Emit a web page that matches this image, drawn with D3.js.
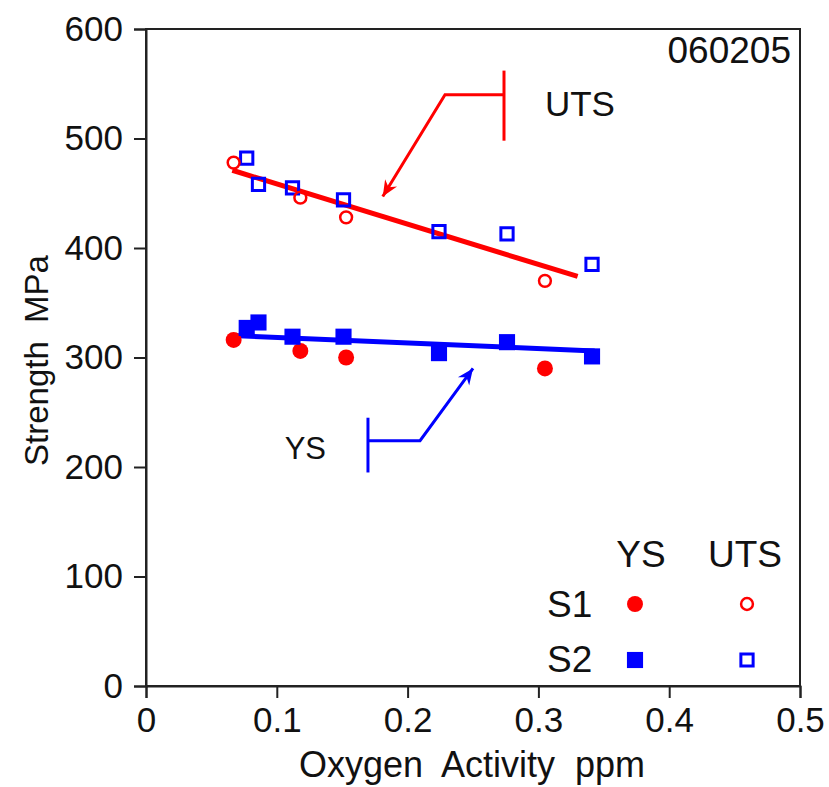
<!DOCTYPE html>
<html>
<head>
<meta charset="utf-8">
<script src="https://cdn.jsdelivr.net/npm/d3@7"></script>
<style>
  body { margin: 0; background: #fff; }
  text { font-family: "Liberation Sans", Arial, sans-serif; fill: #111; }
</style>
</head>
<body>
<div id="chart"></div>
<script>
// data (oxygen activity ppm, strength MPa)
const s1X = [0.067, 0.118, 0.153, 0.305];
const s1YS = [316, 306, 300, 290];
const s1UTS = [478, 446, 428, 370];

const s2X = [0.077, 0.086, 0.112, 0.151, 0.224, 0.276, 0.341];
const s2YS = [327, 332, 319, 319, 304, 314, 301];
const s2UTS = [482, 458, 455, 444, 415, 413, 385];

// fitted trend lines [x, y]
const utsFit = [[0.066, 471], [0.330, 374]];
const ysFit = [[0.066, 320], [0.343, 306]];

const xTicks = [0, 0.1, 0.2, 0.3, 0.4, 0.5];
const yTicks = [0, 100, 200, 300, 400, 500, 600];
const tag = "060205";

const width = 829;
const height = 787;
const margin = { top: 29, right: 29, bottom: 101, left: 146 };

const svg = d3.select("#chart")
  .append("svg")
  .attr("width", width)
  .attr("height", height);

const x = d3.scaleLinear()
  .domain([0, 0.5])
  .range([margin.left, width - margin.right]);

const y = d3.scaleLinear()
  .domain([0, 600])
  .range([height - margin.bottom, margin.top]);

// frame
svg.append("rect")
  .attr("x", x(0))
  .attr("y", y(600))
  .attr("width", x(0.5) - x(0))
  .attr("height", y(0) - y(600))
  .attr("fill", "none")
  .attr("stroke", "#222")
  .attr("stroke-width", 2);

const xAxis = svg.append("g")
  .attr("transform", `translate(0,${y(0)})`)
  .call(d3.axisBottom(x).tickValues(xTicks).tickFormat(d => d === 0 ? "0" : d3.format(".1f")(d))
    .tickSize(12).tickPadding(9));

const yAxis = svg.append("g")
  .attr("transform", `translate(${x(0)},0)`)
  .call(d3.axisLeft(y).tickValues(yTicks).tickSize(12).tickPadding(11));

[xAxis, yAxis].forEach(g => {
  g.select(".domain").attr("stroke", "#222").attr("stroke-width", 2);
  g.selectAll(".tick line").attr("stroke", "#222").attr("stroke-width", 2);
  g.selectAll(".tick text")
    .attr("font-size", 35)
    .attr("font-family", "Liberation Sans, Arial, sans-serif")
    .attr("fill", "#111");
});

// axis titles
svg.append("text")
  .attr("x", 472)
  .attr("y", 777)
  .attr("text-anchor", "middle")
  .attr("font-size", 36)
  .style("white-space", "pre")
  .text("Oxygen  Activity  ppm");

svg.append("text")
  .attr("transform", `translate(48,${(y(0) + y(600)) / 2 + 3}) rotate(-90)`)
  .attr("text-anchor", "middle")
  .attr("font-size", 33)
  .style("white-space", "pre")
  .text("Strength  MPa");

svg.append("text")
  .attr("x", x(0.5) - 9)
  .attr("y", 63)
  .attr("text-anchor", "end")
  .attr("font-size", 37)
  .text(tag);

// trend lines
const line = d3.line().x(d => x(d[0])).y(d => y(d[1]));
svg.append("path").datum(utsFit)
  .attr("d", line).attr("fill", "none").attr("stroke", "#ff0000").attr("stroke-width", 5);
svg.append("path").datum(ysFit)
  .attr("d", line).attr("fill", "none").attr("stroke", "#0000ff").attr("stroke-width", 5);

// markers
const red = "#ff0000", blue = "#0000ff";
const circleSym = d3.symbol().type(d3.symbolCircle);
const squareSym = d3.symbol().type(d3.symbolSquare);

svg.append("g").selectAll("path")
  .data(s2X.map((d, i) => [d, s2UTS[i]]))
  .join("path")
  .attr("transform", d => `translate(${x(d[0])},${y(d[1])})`)
  .attr("d", squareSym.size(150)())
  .attr("fill", "none").attr("stroke", blue).attr("stroke-width", 3);

svg.append("g").selectAll("path")
  .data(s1X.map((d, i) => [d, s1UTS[i]]))
  .join("path")
  .attr("transform", d => `translate(${x(d[0])},${y(d[1])})`)
  .attr("d", circleSym.size(110)())
  .attr("fill", "none").attr("stroke", red).attr("stroke-width", 2.5);

svg.append("g").selectAll("path")
  .data(s1X.map((d, i) => [d, s1YS[i]]))
  .join("path")
  .attr("transform", d => `translate(${x(d[0])},${y(d[1])})`)
  .attr("d", circleSym.size(200)())
  .attr("fill", red);

svg.append("g").selectAll("path")
  .data(s2X.map((d, i) => [d, s2YS[i]]))
  .join("path")
  .attr("transform", d => `translate(${x(d[0])},${y(d[1])})`)
  .attr("d", squareSym.size(260)())
  .attr("fill", blue);

// annotations (in data units)
function arrowHead(from, to, color) {
  const x0 = x(from[0]), y0 = y(from[1]);
  const x1 = x(to[0]), y1 = y(to[1]);
  const a = Math.atan2(y1 - y0, x1 - x0);
  const L = 16, W = 7, N = 11;
  const pt = (l, w) => [x1 - l * Math.cos(a) - w * Math.sin(a), y1 - l * Math.sin(a) + w * Math.cos(a)];
  const p = [[x1, y1], pt(L, W), pt(N, 0), pt(L, -W)];
  svg.append("path").attr("d", "M" + p.join("L") + "Z").attr("fill", color);
}

function callout(c, color) {
  svg.append("line")
    .attr("x1", x(c.barX)).attr("x2", x(c.barX))
    .attr("y1", y(c.barY[0])).attr("y2", y(c.barY[1]))
    .attr("stroke", color).attr("stroke-width", 3);
  svg.append("path")
    .datum([[c.barX, c.elbow[1]], c.elbow, c.tip])
    .attr("d", line).attr("fill", "none").attr("stroke", color).attr("stroke-width", 3);
  arrowHead(c.elbow, c.tip, color);
  svg.append("text")
    .attr("x", x(c.label[0])).attr("y", y(c.label[1]))
    .attr("font-size", c.size)
    .text(c.text);
}

callout({ barX: 0.2737, barY: [562, 498], elbow: [0.2286, 540], tip: [0.181, 447],
  label: [0.305, 520.5], text: "UTS", size: 35 }, red);
callout({ barX: 0.1697, barY: [245, 195], elbow: [0.2095, 224], tip: [0.250, 290],
  label: [0.106, 207], text: "YS", size: 31 }, blue);

// legend
const lg = svg.append("g");
lg.append("text").attr("x", 641).attr("y", 567).attr("text-anchor", "middle").attr("font-size", 37).text("YS");
lg.append("text").attr("x", 745).attr("y", 567).attr("text-anchor", "middle").attr("font-size", 37).text("UTS");
lg.append("text").attr("x", 547).attr("y", 617).attr("font-size", 37).text("S1");
lg.append("text").attr("x", 547).attr("y", 672).attr("font-size", 37).text("S2");
lg.append("path").attr("transform", "translate(635,604)").attr("d", circleSym.size(200)()).attr("fill", red);
lg.append("path").attr("transform", "translate(747,604)").attr("d", circleSym.size(110)())
  .attr("fill", "none").attr("stroke", red).attr("stroke-width", 2.5);
lg.append("path").attr("transform", "translate(635,660)").attr("d", squareSym.size(260)()).attr("fill", blue);
lg.append("path").attr("transform", "translate(747,660)").attr("d", squareSym.size(150)())
  .attr("fill", "none").attr("stroke", blue).attr("stroke-width", 3);
</script>
</body>
</html>
